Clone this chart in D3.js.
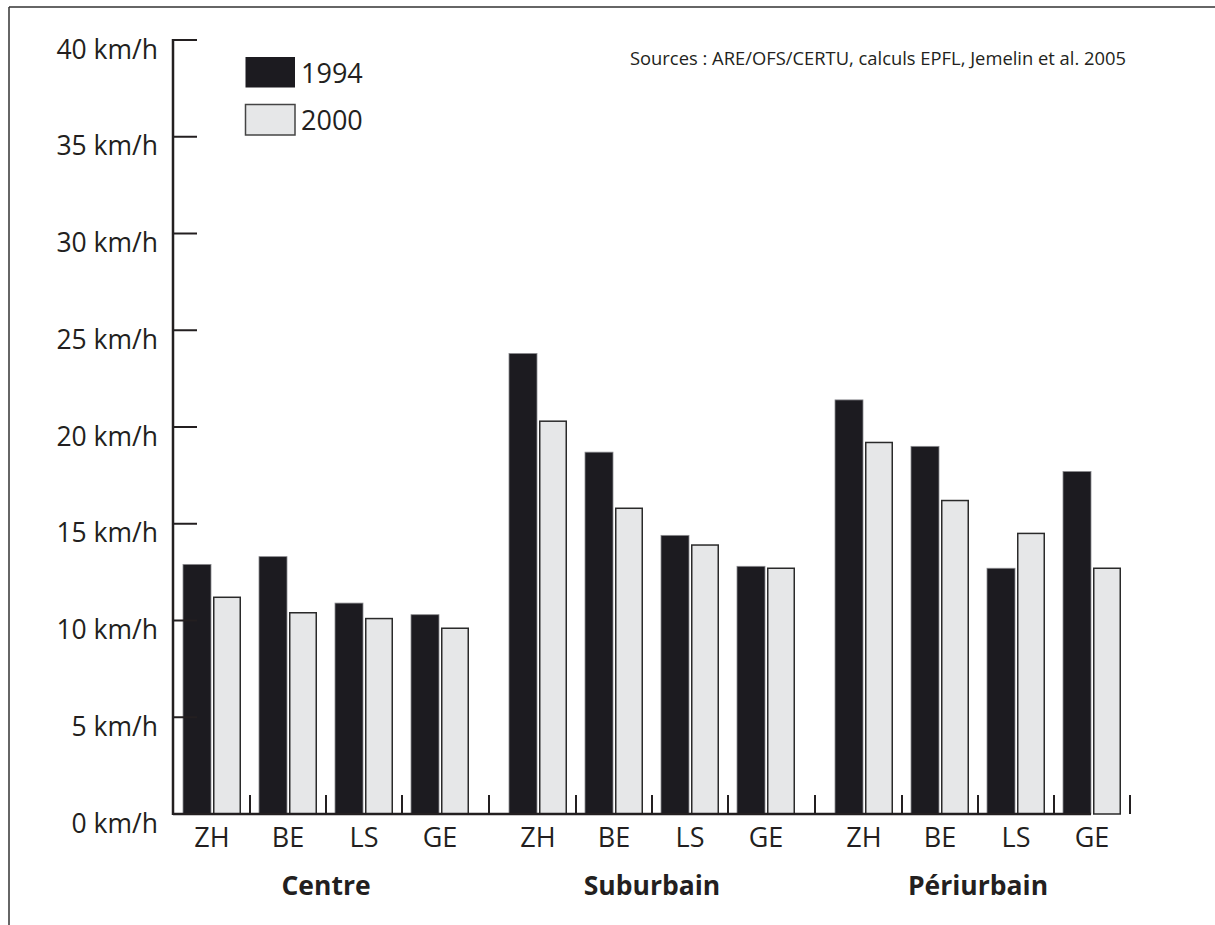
<!DOCTYPE html>
<html><head><meta charset="utf-8">
<script src="https://cdn.jsdelivr.net/npm/d3@7/dist/d3.min.js"></script>
<style>
html,body{margin:0;padding:0;background:#fff;}
svg{display:block;}
text{font-family:"Open Sans",sans-serif;fill:#231f20;}
</style></head>
<body>
<svg id="chart" width="1215" height="925"></svg>
<script>
const groups = ["Centre", "Suburbain", "Périurbain"];
const cities = ["ZH", "BE", "LS", "GE"];
const years = ["1994", "2000"];
const values1994 = [12.9, 13.3, 10.9, 10.3, 23.8, 18.7, 14.4, 12.8, 21.4, 19.0, 12.7, 17.7];
const values2000 = [11.2, 10.4, 10.1, 9.6, 20.3, 15.8, 13.9, 12.7, 19.2, 16.2, 14.5, 12.7];
const yTicks = [0, 5, 10, 15, 20, 25, 30, 35, 40];
const tickUnit = " km/h";
const sourceText = "Sources :  ARE/OFS/CERTU, calculs EPFL, Jemelin et al. 2005";

const ink = "#231f20";
const colors = {"1994": "#1c1b20", "2000": "#e6e7e8"};

const svg = d3.select("#chart");

// frame (top and left edges visible)
svg.append("line").attr("x1", 9).attr("x2", 1215).attr("y1", 7).attr("y2", 7)
  .attr("stroke", "#333").attr("stroke-width", 1.5);
svg.append("line").attr("x1", 9).attr("x2", 9).attr("y1", 7).attr("y2", 925)
  .attr("stroke", "#333").attr("stroke-width", 1.5);

const axisX = 173;
const y = d3.scaleLinear().domain([0, 40]).range([814, 40]);
const gx = d3.scaleBand().domain(groups).range([174, 1130]).paddingInner(22 / 326);
const cx = d3.scaleBand().domain(cities).range([0, gx.bandwidth()]).paddingInner(18 / 76).paddingOuter(9 / 76);
const sx = d3.scaleBand().domain(years).range([0, cx.bandwidth()]).paddingInner(2 / 30);

// data rows
const rows = [];
groups.forEach((g, gi) => cities.forEach((c, ci) => {
  const idx = gi * cities.length + ci;
  rows.push({g, c, year: "1994", v: values1994[idx]});
  rows.push({g, c, year: "2000", v: values2000[idx]});
}));

// bars
svg.append("g").selectAll("rect").data(rows).join("rect")
  .attr("x", d => gx(d.g) + cx(d.c) + sx(d.year) + (d.year === "2000" ? 0.75 : 0))
  .attr("y", d => y(d.v))
  .attr("width", d => sx.bandwidth() - (d.year === "2000" ? 1.5 : 0))
  .attr("height", d => y(0) - y(d.v))
  .attr("fill", d => colors[d.year])
  .attr("stroke", d => d.year === "2000" ? "#2a2a2a" : "#8a8a8e")
  .attr("stroke-width", d => d.year === "2000" ? 1.5 : 0.8);

// y axis line and ticks
svg.append("line").attr("x1", axisX).attr("x2", axisX)
  .attr("y1", y(40) - 1).attr("y2", y(0) + 1)
  .attr("stroke", ink).attr("stroke-width", 2.5);
svg.append("g").selectAll("line").data(yTicks.filter(t => t > 0)).join("line")
  .attr("x1", axisX).attr("x2", axisX + 24)
  .attr("y1", d => y(d)).attr("y2", d => y(d))
  .attr("stroke", ink).attr("stroke-width", 2);
svg.append("g").selectAll("text").data(yTicks).join("text")
  .attr("x", 158).attr("y", d => y(d) + 18.5)
  .attr("text-anchor", "end")
  .attr("font-size", 26.5)
  .text(d => d + tickUnit);

// baseline
const lastG = groups[groups.length - 1], lastC = cities[cities.length - 1];
svg.append("line").attr("x1", axisX).attr("x2", gx(lastG) + cx(lastC) + sx("2000") - 2)
  .attr("y1", y(0)).attr("y2", y(0))
  .attr("stroke", ink).attr("stroke-width", 2.5);

// separator ticks
const sepX = [];
groups.forEach((g, gi) => {
  for (let i = 1; i < cities.length; i++) sepX.push(gx(g) + cx.step() * i);
  if (gi < groups.length - 1) {
    const endBar = gx(g) + cx(lastC) + cx.bandwidth();
    const nextStart = gx(groups[gi + 1]) + cx(cities[0]);
    sepX.push((endBar + nextStart) / 2);
  } else {
    sepX.push(gx(g) + gx.bandwidth());
  }
});
svg.append("g").selectAll("line").data(sepX).join("line")
  .attr("x1", d => d).attr("x2", d => d)
  .attr("y1", y(0) - 19).attr("y2", y(0))
  .attr("stroke", ink).attr("stroke-width", 2);

// city labels
const cityLabels = [];
groups.forEach(g => cities.forEach(c => cityLabels.push({g, c})));
svg.append("g").selectAll("text").data(cityLabels).join("text")
  .attr("x", d => gx(d.g) + cx(d.c) + cx.bandwidth() / 2)
  .attr("y", 847)
  .attr("text-anchor", "middle")
  .attr("font-size", 27)
  .text(d => d.c);

// group labels
svg.append("g").selectAll("text").data(groups).join("text")
  .attr("x", d => gx(d) + gx.bandwidth() / 2)
  .attr("y", 895)
  .attr("text-anchor", "middle")
  .attr("font-size", 26.5)
  .attr("font-weight", "bold")
  .text(d => d);

// legend
const legend = svg.append("g");
years.forEach((yr, i) => {
  legend.append("rect").attr("x", 245.5).attr("y", 57 + i * 47.5)
    .attr("width", 49.5).attr("height", 30.5)
    .attr("fill", colors[yr])
    .attr("stroke", yr === "2000" ? "#444" : "none").attr("stroke-width", 1.5);
  legend.append("text").attr("x", 301).attr("y", 83 + i * 47)
    .attr("font-size", 27).text(yr);
});

// sources
svg.append("text").attr("x", 630).attr("y", 65)
  .attr("font-size", 17.5)
  .attr("textLength", 496).attr("lengthAdjust", "spacingAndGlyphs")
  .text(sourceText);
</script>
</body></html>
